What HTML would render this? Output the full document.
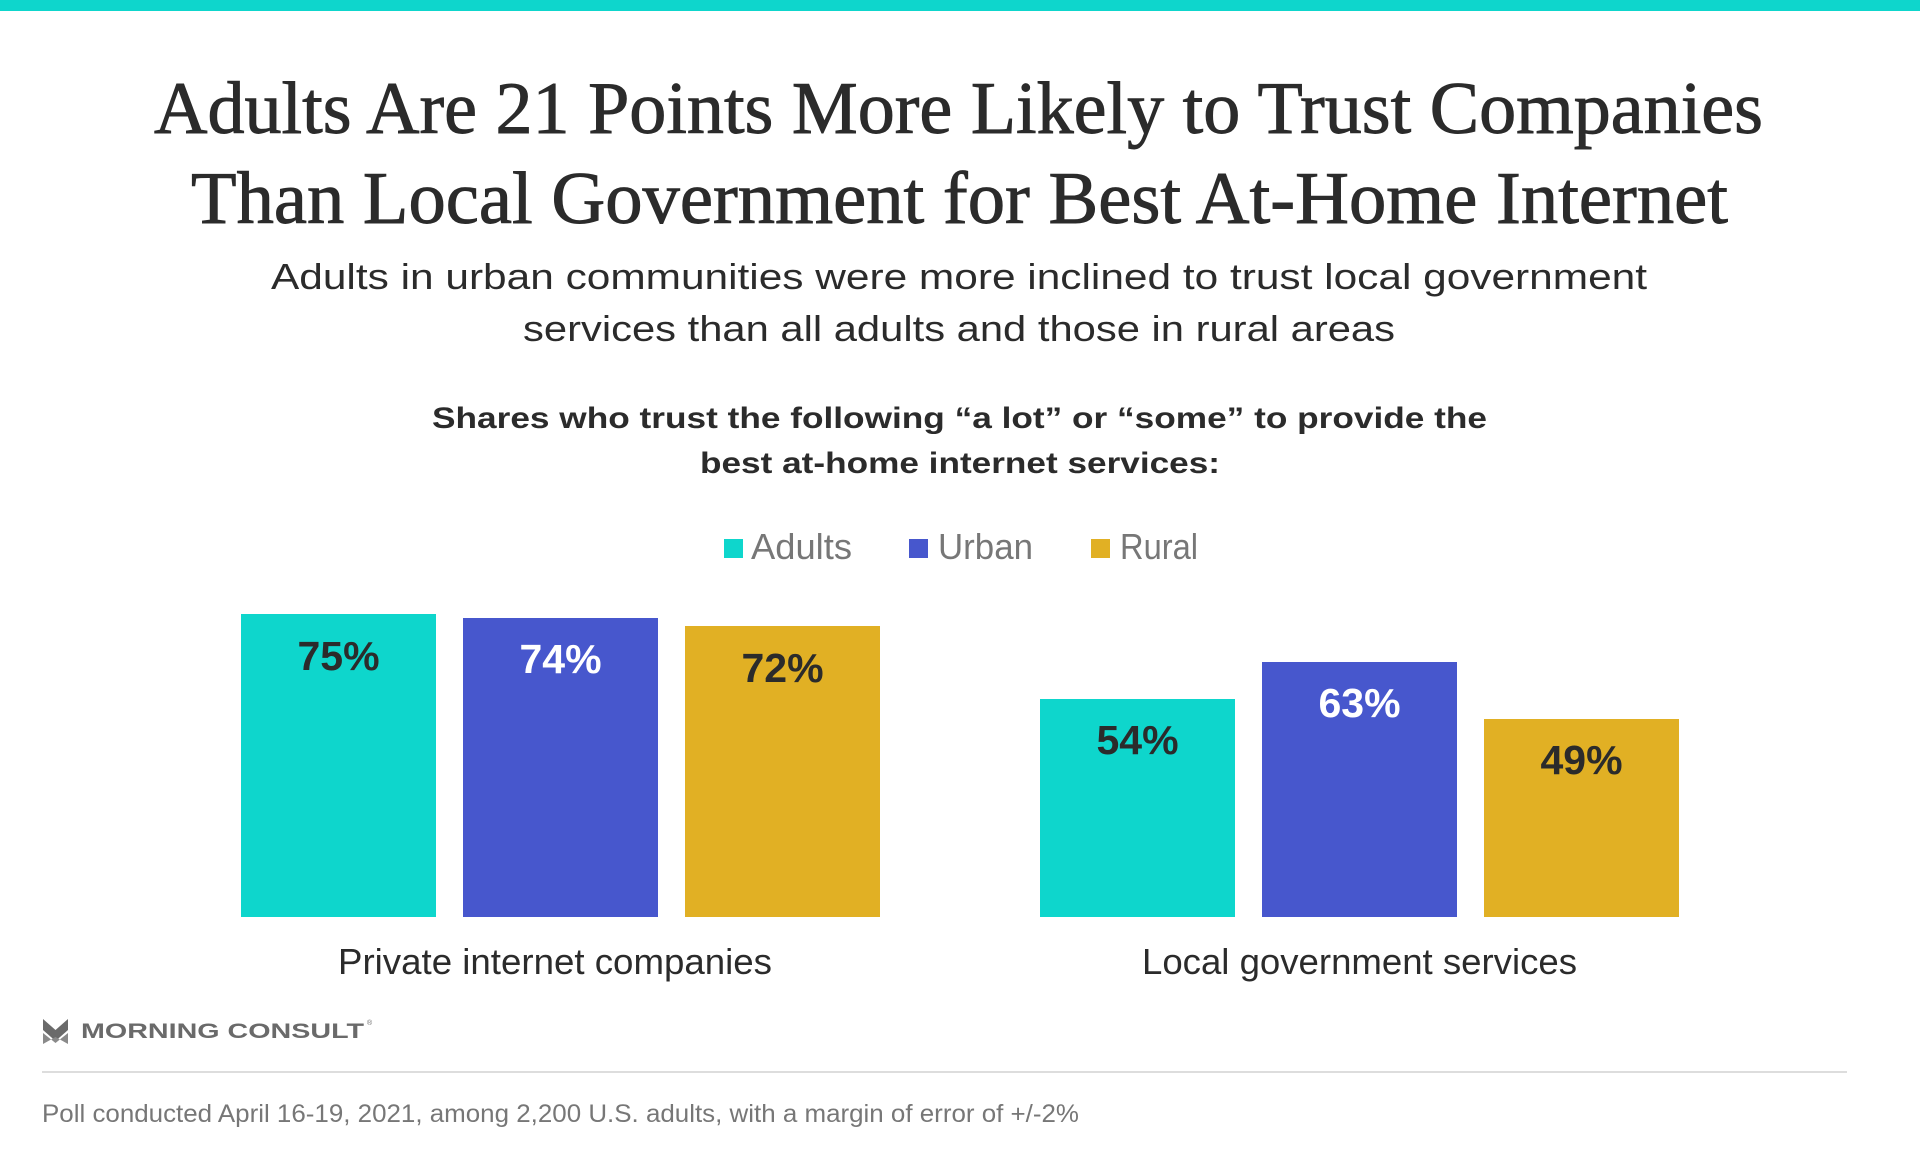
<!DOCTYPE html>
<html>
<head>
<meta charset="utf-8">
<style>
html,body{margin:0;padding:0;background:#fff;}
body{width:1920px;height:1152px;overflow:hidden;}
svg{display:block;}
</style>
</head>
<body>
<svg width="1920" height="1152" viewBox="0 0 1920 1152" xmlns="http://www.w3.org/2000/svg">
  <rect x="0" y="0" width="1920" height="1152" fill="#ffffff"/>
  <rect x="0" y="0" width="1920" height="11" fill="#0ED6CC"/>

  <!-- Title -->
  <g font-family="'Liberation Serif', serif" fill="#2b2b2b" stroke="#2b2b2b" stroke-width="0.9" font-size="74">
    <text x="154" y="133" textLength="1609" lengthAdjust="spacingAndGlyphs">Adults Are 21 Points More Likely to Trust Companies</text>
    <text x="191" y="223" textLength="1537" lengthAdjust="spacingAndGlyphs">Than Local Government for Best At-Home Internet</text>
  </g>

  <!-- Subtitle -->
  <g font-family="'Liberation Sans', sans-serif" fill="#2b2b2b" font-size="36">
    <text x="271" y="289" textLength="1376" lengthAdjust="spacingAndGlyphs">Adults in urban communities were more inclined to trust local government</text>
    <text x="523" y="341" textLength="872" lengthAdjust="spacingAndGlyphs">services than all adults and those in rural areas</text>
  </g>

  <!-- Chart heading -->
  <g font-family="'Liberation Sans', sans-serif" fill="#2b2b2b" font-size="30" font-weight="bold">
    <text x="432" y="428" textLength="1055" lengthAdjust="spacingAndGlyphs">Shares who trust the following “a lot” or “some” to provide the</text>
    <text x="700" y="473" textLength="520" lengthAdjust="spacingAndGlyphs">best at-home internet services:</text>
  </g>

  <!-- Legend -->
  <g font-family="'Liberation Sans', sans-serif" fill="#777777" font-size="36">
    <rect x="724" y="539" width="19" height="19" fill="#0ED6CC"/>
    <text x="751" y="559" textLength="101" lengthAdjust="spacingAndGlyphs">Adults</text>
    <rect x="909" y="539" width="19" height="19" fill="#4757CD"/>
    <text x="938" y="559" textLength="95" lengthAdjust="spacingAndGlyphs">Urban</text>
    <rect x="1091" y="539" width="19" height="19" fill="#E1B024"/>
    <text x="1120" y="559" textLength="78" lengthAdjust="spacingAndGlyphs">Rural</text>
  </g>

  <!-- Bars -->
  <rect x="241" y="614" width="195" height="303" fill="#0ED6CC"/>
  <rect x="463" y="618" width="195" height="299" fill="#4757CD"/>
  <rect x="685" y="626" width="195" height="291" fill="#E1B024"/>
  <rect x="1040" y="699" width="195" height="218" fill="#0ED6CC"/>
  <rect x="1262" y="662" width="195" height="255" fill="#4757CD"/>
  <rect x="1484" y="719" width="195" height="198" fill="#E1B024"/>

  <!-- Bar labels -->
  <g font-family="'Liberation Sans', sans-serif" font-size="41" font-weight="bold" text-anchor="middle">
    <text x="338.5" y="670" fill="#2b2b2b">75%</text>
    <text x="560.5" y="673" fill="#ffffff">74%</text>
    <text x="782.5" y="682" fill="#2b2b2b">72%</text>
    <text x="1137.5" y="754" fill="#2b2b2b">54%</text>
    <text x="1359.5" y="717" fill="#ffffff">63%</text>
    <text x="1581.5" y="774" fill="#2b2b2b">49%</text>
  </g>

  <!-- Category labels -->
  <g font-family="'Liberation Sans', sans-serif" fill="#2b2b2b" font-size="36">
    <text x="338" y="974" textLength="434" lengthAdjust="spacingAndGlyphs">Private internet companies</text>
    <text x="1142" y="974" textLength="435" lengthAdjust="spacingAndGlyphs">Local government services</text>
  </g>

  <!-- Logo -->
  <polygon points="43,1019 55.5,1030 68,1019 68,1030 55.5,1041 43,1030" fill="#6a6a6a"/>
  <polygon points="43,1033 55.5,1043 68,1033 68,1044 55.5,1037 43,1044" fill="#8a8a8a"/>
  <text x="81" y="1038" font-family="'Liberation Sans', sans-serif" font-weight="bold" font-size="21" fill="#6a6a6a" textLength="283" lengthAdjust="spacingAndGlyphs">MORNING CONSULT</text>
  <text x="367" y="1025" font-family="'Liberation Sans', sans-serif" font-size="7" fill="#6a6a6a">®</text>

  <!-- Divider -->
  <rect x="42" y="1071" width="1805" height="2" fill="#dddddd"/>

  <!-- Footnote -->
  <text x="42" y="1122" font-family="'Liberation Sans', sans-serif" font-size="25" fill="#777777" textLength="1037" lengthAdjust="spacingAndGlyphs">Poll conducted April 16-19, 2021, among 2,200 U.S. adults, with a margin of error of +/-2%</text>
</svg>
</body>
</html>
